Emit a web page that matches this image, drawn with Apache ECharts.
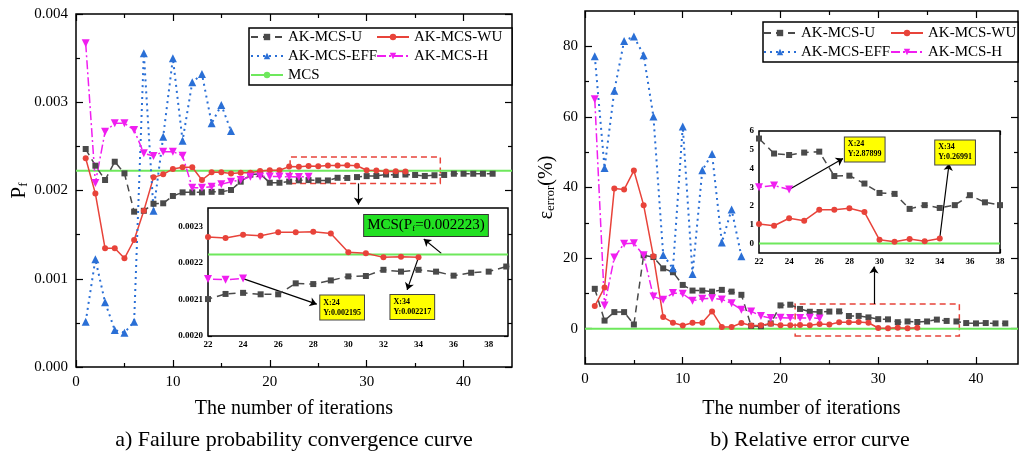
<!DOCTYPE html>
<html><head><meta charset="utf-8">
<script src="https://cdn.jsdelivr.net/npm/echarts@6/dist/echarts.min.js"></script>
<style>html,body{margin:0;padding:0;background:#fff}#c{width:1020px;height:461px}</style>
</head><body><div id="c"></div>
<script>
// ---------------- data ----------------
const iterations = [1,2,3,4,5,6,7,8,9,10,11,12,13,14,15,16,17,18,19,20,21,22,23,24,25,26,27,28,29,30,31,32,33,34,35,36,37,38,39,40,41,42,43];
// a) failure probability
const pfU = [0.00247,0.002281,0.002119,0.002326,0.002194,0.00176,0.00177,0.00185,0.001855,0.001938,0.001979,0.001979,0.001979,0.001985,0.001985,0.002006,0.0021,0.00218,0.00219,0.002088,0.002088,0.002101,0.002115,0.002118,0.002114,0.002114,0.002144,0.002142,0.002152,0.002163,0.002164,0.002181,0.002176,0.002181,0.002176,0.002165,0.002173,0.002176,0.00219,0.00219,0.00219,0.00219,0.00219];
const pfWU = [0.002365,0.001965,0.001345,0.001345,0.001232,0.001439,0.001771,0.002149,0.002183,0.002244,0.002263,0.002263,0.002119,0.002206,0.002206,0.002194,0.0022,0.0022,0.00222,0.00223,0.00223,0.002271,0.002268,0.002277,0.002274,0.002284,0.002284,0.002285,0.00228,0.002229,0.002226,0.002215,0.002217,0.002215];
const pfEFF = [0.000513,0.00122,0.000733,0.000419,0.000389,0.000513,0.003555,0.001771,0.00261,0.003498,0.002565,0.003226,0.00332,0.002761,0.002969,0.002674];
const pfH = [0.003668,0.002085,0.002666,0.002761,0.002761,0.002686,0.002421,0.002391,0.00244,0.00244,0.002394,0.002032,0.002032,0.002043,0.00207,0.0021,0.002118,0.002157,0.00216,0.00216,0.002158,0.002156,0.002154,0.002157];
const mcsPf = 0.002223;
// b) relative error (%)
const errU = [11.3,2.3,4.7,4.7,1.2,20.8,20.3,17.1,16.0,12.4,10.8,10.8,10.5,11.0,10.5,9.6,0.8,0.7,1.5,6.6,6.8,5.6,4.8,4.72,4.85,4.9,3.6,3.62,3.2,2.7,2.65,1.85,2.05,1.9,2.05,2.58,2.2,2.05,1.6,1.5,1.6,1.5,1.5];
const errWU = [6.4,11.7,39.7,39.4,44.8,35.0,20.5,3.3,1.7,0.9,1.7,1.7,4.9,0.5,0.5,1.6,0.9,1.0,1.4,1.0,1.0,1.05,0.95,1.35,1.22,1.8,1.8,1.88,1.68,0.2,0.1,0.25,0.13,0.27];
const errEFF = [77.2,45.5,67.4,81.5,82.8,77.5,60.1,20.9,17.1,57.3,15.5,44.9,49.5,24.4,33.8,20.5];
const errH = [65.0,6.6,20.2,24.1,24.2,20.8,9.1,8.2,10.1,9.9,7.9,8.5,8.6,8.3,7.2,5.4,4.9,3.6,3.0,3.1,3.0,3.0,3.1,2.88];
const mcsErr = 0;
// tick labels
const leftMainXLabels = [0,10,20,30,40];
const leftMainXMinor = [5,15,25,35];
const leftMainYLabels = [0,0.001,0.002,0.003,0.004];
const leftMainYMinor = [0.0005,0.0015,0.0025,0.0035];
const leftInsetXLabels = [22,24,26,28,30,32,34,36,38];
const leftInsetXMinor = [23,25,27,29,31,33,35,37,39];
const leftInsetYLabels = [0.0020,0.0021,0.0022,0.0023];
const leftInsetYMinor = [0.00205,0.00215,0.00225];
const rightMainXLabels = [0,10,20,30,40];
const rightMainXMinor = [5,15,25,35];
const rightMainYLabels = [0,20,40,60,80];
const rightMainYMinor = [10,30,50,70];
const rightInsetXLabels = [22,24,26,28,30,32,34,36,38];
const rightInsetXMinor = [23,25,27,29,31,33,35,37];
const rightInsetYLabels = [0,1,2,3,4,5,6];
// annotation texts
const noteL24 = 'X:24\nY:0.002195';
const noteL34 = 'X:34\nY:0.002217';
const noteR24 = 'X:24\nY:2.87899';
const noteR34 = 'X:34\nY:0.26991';

// ---------------- chart ----------------
const FONT = 'Liberation Serif';
const chart = echarts.init(document.getElementById('c'), null, {renderer:'canvas', width:1020, height:461});

const grids = [
  {left:76, top:14, width:436, height:353, show:true, borderColor:'#000', borderWidth:1.5, backgroundColor:'transparent'},
  {left:208, top:208, width:300, height:128, show:true, borderColor:'#000', borderWidth:1.5, backgroundColor:'#fff', z:1},
  {left:585, top:11, width:433, height:353, show:true, borderColor:'#000', borderWidth:1.5, backgroundColor:'transparent'},
  {left:759, top:131, width:241, height:122, show:true, borderColor:'#000', borderWidth:1.5, backgroundColor:'#fff', z:1}
];

const xAxes = [], yAxes = [];
function tickAxis(dim, g, c, pos, ticks, len, label) {
  const isX = dim === 'x';
  const a = {
    type:'value', gridIndex:g, position:pos,
    min: isX ? c.xmin : c.ymin, max: isX ? c.xmax : c.ymax,
    splitLine:{show:false},
    axisLine:{show:false, onZero:false},
    axisTick:{show:true, inside:true, length:len, customValues:ticks, lineStyle:{color:'#000', width:1.2}},
    axisLabel:{show:false}
  };
  if (label) {
    a.axisLabel = {show:true, customValues:label.values, margin:label.margin, color:'#000',
      fontFamily:FONT, fontSize:c.fs, fontWeight:c.fw, formatter:label.fmt};
    if (label.name) {
      a.name = label.name; a.nameLocation = 'middle'; a.nameGap = label.nameGap;
      a.nameRotate = isX ? 0 : 90;
      a.nameTextStyle = label.nameStyle;
    }
  }
  return a;
}
function addAxes(g, c) {
  const xi = xAxes.length, yi = yAxes.length;
  xAxes.push(tickAxis('x', g, c, 'bottom', c.xLab, c.tMaj, {values:c.xLab, margin:c.xm, fmt:c.xFmt, name:c.xName, nameGap:c.xNameGap, nameStyle:c.xNameStyle}));
  xAxes.push(tickAxis('x', g, c, 'bottom', c.xMin, c.tMin));
  xAxes.push(tickAxis('x', g, c, 'top', c.xLab, c.tMaj));
  xAxes.push(tickAxis('x', g, c, 'top', c.xMin, c.tMin));
  yAxes.push(tickAxis('y', g, c, 'left', c.yLab, c.tMaj, {values:c.yLab, margin:c.ym, fmt:c.yFmt, name:c.yName, nameGap:c.yNameGap, nameStyle:c.yNameStyle}));
  yAxes.push(tickAxis('y', g, c, 'left', c.yMin, c.tMin));
  yAxes.push(tickAxis('y', g, c, 'right', c.yLab, c.tMaj));
  yAxes.push(tickAxis('y', g, c, 'right', c.yMin, c.tMin));
  return {x:xi, y:yi, c:c};
}
const xTitle = {fontFamily:FONT, fontSize:20, color:'#000'};
const A0 = addAxes(0, {xmin:0, xmax:45, ymin:0, ymax:0.004, xLab:leftMainXLabels, xMin:leftMainXMinor, yLab:leftMainYLabels, yMin:leftMainYMinor,
  tMaj:7, tMin:4, fs:15, fw:'normal', xm:8, ym:8, xFmt:v=>String(v), yFmt:v=>v.toFixed(3),
  xName:'The number of iterations', xNameGap:32, xNameStyle:xTitle,
  yName:'{p|P}{s|f}', yNameGap:46, yNameStyle:{fontFamily:FONT, color:'#000', rich:{p:{fontSize:21, fontFamily:FONT}, s:{fontSize:13, fontFamily:FONT, verticalAlign:'bottom', padding:[0,0,0,0]}}}});
const A1 = addAxes(1, {xmin:22, xmax:39.1, ymin:0.002, ymax:0.00235, xLab:leftInsetXLabels, xMin:leftInsetXMinor, yLab:leftInsetYLabels, yMin:leftInsetYMinor,
  tMaj:4, tMin:2, fs:9, fw:'bold', xm:4, ym:5, xFmt:v=>String(v), yFmt:v=>v.toFixed(4)});
const A2 = addAxes(2, {xmin:0, xmax:44.3, ymin:-10, ymax:90, xLab:rightMainXLabels, xMin:rightMainXMinor, yLab:rightMainYLabels, yMin:rightMainYMinor,
  tMaj:7, tMin:4, fs:15, fw:'normal', xm:8, ym:7, xFmt:v=>String(v), yFmt:v=>String(v),
  xName:'The number of iterations', xNameGap:35, xNameStyle:xTitle,
  yName:'{p|ε}{s|error}{p|(%)}', yNameGap:28, yNameStyle:{fontFamily:FONT, color:'#000', rich:{p:{fontSize:20, fontFamily:FONT}, s:{fontSize:13, fontFamily:FONT, verticalAlign:'bottom'}}}});
const A3 = addAxes(3, {xmin:22, xmax:38, ymin:-0.5, ymax:6, xLab:rightInsetXLabels, xMin:rightInsetXMinor, yLab:rightInsetYLabels, yMin:[],
  tMaj:4, tMin:2, fs:9, fw:'bold', xm:4, ym:5, xFmt:v=>String(v), yFmt:v=>String(v)});

const STY = {
  'AK-MCS-U':  {color:'#4a4a4a', type:[7,5], symbol:'rect', size:6, width:1.5},
  'AK-MCS-WU': {color:'#e8433a', type:'solid', symbol:'circle', size:6, width:1.5},
  'AK-MCS-EFF':{color:'#2a6fd6', type:[2,4], symbol:'triangle', size:8, width:2},
  'AK-MCS-H':  {color:'#f01ef0', type:[9,3,2,3], symbol:'triangle', rotate:180, size:8, width:1.5}
};
function lineSeries(name, ax, ys, z) {
  const s = STY[name];
  return {type:'line', name:name, xAxisIndex:ax.x, yAxisIndex:ax.y,
    data: ys.map((v,i)=>[iterations[i], v]),
    symbol:s.symbol, symbolSize:s.size, symbolRotate:s.rotate||0, showSymbol:true, showAllSymbol:true,
    itemStyle:{color:s.color}, lineStyle:{color:s.color, width:s.width, type:s.type},
    z:z||3, silent:true, animation:false, clip:true};
}
const arrowLine = {silent:true, symbol:['none','arrow'], symbolSize:7, label:{show:false},
  lineStyle:{color:'#000', width:1.2, type:'solid'}, emphasis:{disabled:true}};
const yellowLabel = {show:true, position:'inside', align:'left', verticalAlign:'middle',
  backgroundColor:'#ffff00', borderColor:'#444', borderWidth:1, padding:[2,3],
  fontFamily:FONT, fontSize:8, lineHeight:10, fontWeight:'bold', color:'#000'};
function mcsSeries(ax, v, extra) {
  return Object.assign({type:'line', name:'MCS', xAxisIndex:ax.x, yAxisIndex:ax.y,
    data:[[ax.c.xmin, v],[ax.c.xmax, v]], symbol:'none', showSymbol:false,
    itemStyle:{color:'#6ee85c'}, lineStyle:{color:'#6ee85c', width:2}, z:2, silent:true, animation:false}, extra);
}

const series = [
  // a) main
  mcsSeries(A0, mcsPf, {
    markArea:{silent:true, itemStyle:{color:'rgba(0,0,0,0)', borderColor:'#e8433a', borderWidth:1.5, borderType:[6,4]},
      data:[[{coord:[22.1,0.00208]},{coord:[37.6,0.00238]}]]},
    markLine:Object.assign({}, arrowLine, {data:[[{coord:[29.15,0.00208]},{coord:[29.15,0.00184]}]]})
  }),
  lineSeries('AK-MCS-U', A0, pfU),
  lineSeries('AK-MCS-WU', A0, pfWU),
  lineSeries('AK-MCS-EFF', A0, pfEFF),
  lineSeries('AK-MCS-H', A0, pfH),
  // a) inset
  mcsSeries(A1, mcsPf, {z:5,
    markLine:Object.assign({}, arrowLine, {data:[
      [{coord:[35.3,0.002226]},{coord:[34.3,0.002265]}],
      [{coord:[24,0.002157]},{coord:[28.2,0.002087]}],
      [{coord:[34,0.002215]},{coord:[33.35,0.002126]}]
    ]}),
    markPoint:{silent:true, symbol:'rect', symbolSize:1, itemStyle:{color:'rgba(0,0,0,0)'}, data:[
      {coord:[28.4,0.002078], label:Object.assign({}, yellowLabel, {formatter:noteL24})},
      {coord:[32.4,0.002079], label:Object.assign({}, yellowLabel, {formatter:noteL34})},
      {coord:[30.9,0.002302], label:{show:true, position:'inside', align:'left', verticalAlign:'middle',
        backgroundColor:'#22e022', borderColor:'#333', borderWidth:1, padding:[3,3],
        formatter:'{a|MCS(P}{s|f}{a|=0.002223)}',
        rich:{a:{fontFamily:FONT, fontSize:15, color:'#000'}, s:{fontFamily:FONT, fontSize:9, color:'#000', verticalAlign:'bottom'}}}}
    ]}
  }),
  lineSeries('AK-MCS-U', A1, pfU, 6),
  lineSeries('AK-MCS-WU', A1, pfWU, 6),
  lineSeries('AK-MCS-H', A1, pfH, 6),
  // b) main
  mcsSeries(A2, mcsErr, {
    markArea:{silent:true, itemStyle:{color:'rgba(0,0,0,0)', borderColor:'#e8433a', borderWidth:1.5, borderType:[6,4]},
      data:[[{coord:[21.5,-2.1]},{coord:[38.3,7.0]}]]},
    markLine:Object.assign({}, arrowLine, {data:[[{coord:[29.56,7.0]},{coord:[29.56,17.6]}]]})
  }),
  lineSeries('AK-MCS-U', A2, errU),
  lineSeries('AK-MCS-WU', A2, errWU),
  lineSeries('AK-MCS-EFF', A2, errEFF),
  lineSeries('AK-MCS-H', A2, errH),
  // b) inset
  mcsSeries(A3, mcsErr, {z:5,
    markLine:Object.assign({}, arrowLine, {data:[
      [{coord:[24,2.879]},{coord:[27.58,4.54]}],
      [{coord:[34,0.27]},{coord:[34.62,4.27]}]
    ]}),
    markPoint:{silent:true, symbol:'rect', symbolSize:1, itemStyle:{color:'rgba(0,0,0,0)'}, data:[
      {coord:[27.7,5.02], label:Object.assign({}, yellowLabel, {formatter:noteR24})},
      {coord:[33.7,4.86], label:Object.assign({}, yellowLabel, {formatter:noteR34})}
    ]}
  }),
  lineSeries('AK-MCS-U', A3, errU, 6),
  lineSeries('AK-MCS-WU', A3, errWU, 6),
  lineSeries('AK-MCS-H', A3, errH, 6)
];

const legendText = {fontFamily:FONT, fontSize:15, color:'#000', lineHeight:19};
const legendBase = {orient:'vertical', itemWidth:32, itemHeight:8, itemGap:0, padding:0, textStyle:legendText, selectedMode:false, z:10};

chart.setOption({
  animation:false,
  backgroundColor:'#fff',
  grid: grids,
  xAxis: xAxes,
  yAxis: yAxes,
  legend: [
    Object.assign({}, legendBase, {data:['AK-MCS-U','AK-MCS-EFF','MCS'], left:250, top:27.5}),
    Object.assign({}, legendBase, {data:['AK-MCS-WU','AK-MCS-H'], left:376, top:27.5}),
    Object.assign({}, legendBase, {data:['AK-MCS-U','AK-MCS-EFF'], left:763, top:23.5}),
    Object.assign({}, legendBase, {data:['AK-MCS-WU','AK-MCS-H'], left:890, top:23.5})
  ],
  graphic: [
    {type:'rect', z:8, shape:{x:249, y:28, width:263, height:57}, style:{fill:'#fff', stroke:'#000', lineWidth:1.5}},
    {type:'rect', z:8, shape:{x:763, y:22, width:255, height:40}, style:{fill:'#fff', stroke:'#000', lineWidth:1.5}},
    {type:'text', z:8, style:{x:294, y:440, text:'a) Failure probability convergence curve', textAlign:'center', textVerticalAlign:'middle', font:'22px "Liberation Serif"', fill:'#000'}},
    {type:'text', z:8, style:{x:810, y:440, text:'b) Relative error curve', textAlign:'center', textVerticalAlign:'middle', font:'22px "Liberation Serif"', fill:'#000'}}
  ],
  series: series
});
</script>
</body></html>
